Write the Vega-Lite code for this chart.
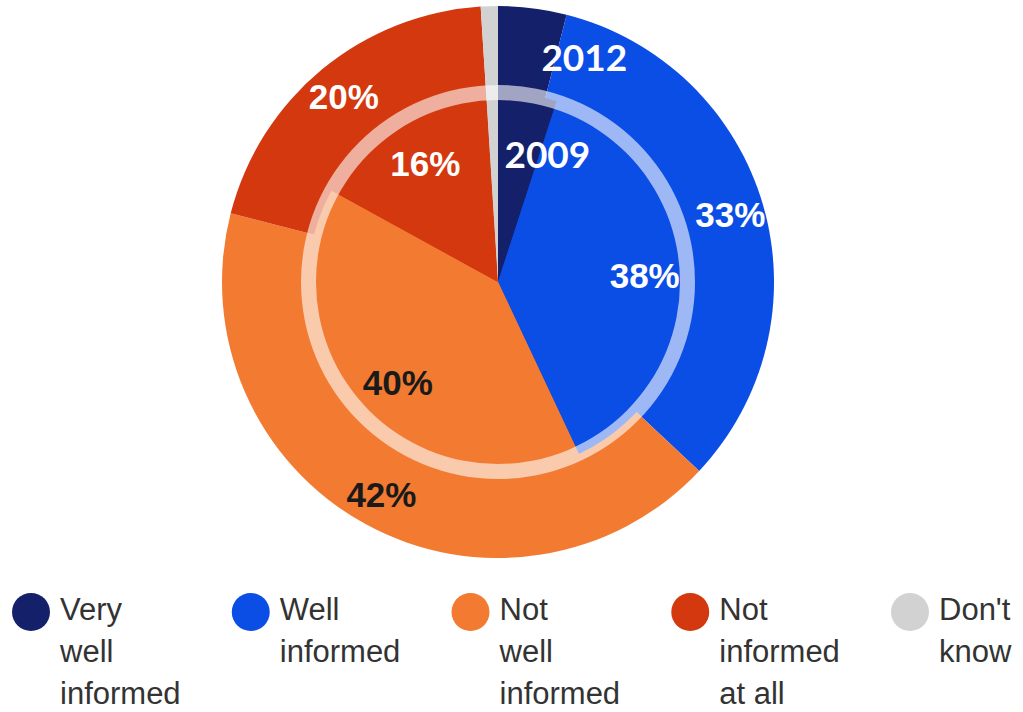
{
  "$schema": "https://vega.github.io/schema/vega-lite/v6.json",
  "background": "white",
  "padding": 0,
  "spacing": 0,
  "config": {"view": {"stroke": null}},
  "datasets": {
    "survey": [
      {"year": "2012", "category": "Very well informed", "ord": 1, "share": 0.04, "legend_label": "Very\nwell\ninformed"},
      {"year": "2012", "category": "Well informed", "ord": 2, "share": 0.33, "legend_label": "Well\ninformed"},
      {"year": "2012", "category": "Not well informed", "ord": 3, "share": 0.42, "legend_label": "Not\nwell\ninformed"},
      {"year": "2012", "category": "Not informed at all", "ord": 4, "share": 0.20, "legend_label": "Not\ninformed\nat all"},
      {"year": "2012", "category": "Don't know", "ord": 5, "share": 0.01, "legend_label": "Don't\nknow"},
      {"year": "2009", "category": "Very well informed", "ord": 1, "share": 0.05, "legend_label": "Very\nwell\ninformed"},
      {"year": "2009", "category": "Well informed", "ord": 2, "share": 0.38, "legend_label": "Well\ninformed"},
      {"year": "2009", "category": "Not well informed", "ord": 3, "share": 0.40, "legend_label": "Not\nwell\ninformed"},
      {"year": "2009", "category": "Not informed at all", "ord": 4, "share": 0.16, "legend_label": "Not\ninformed\nat all"},
      {"year": "2009", "category": "Don't know", "ord": 5, "share": 0.01, "legend_label": "Don't\nknow"}
    ],
    "ring": [{"v": 1}]
  },
  "vconcat": [
    {
      "width": 996,
      "height": 564,
      "layer": [
        {
          "data": {"name": "survey"},
          "transform": [{"filter": "datum.year === '2012'"}],
          "mark": {"type": "arc", "radius": 276},
          "encoding": {
            "theta": {"field": "share", "type": "quantitative", "stack": true},
            "order": {"field": "ord", "type": "quantitative"},
            "color": {
              "field": "category", "type": "nominal", "legend": null,
              "scale": {
                "domain": ["Very well informed", "Well informed", "Not well informed", "Not informed at all", "Don't know"],
                "range": ["#15206a", "#0b4ee6", "#f27a31", "#d4380e", "#d2d2d2"]
              }
            }
          }
        },
        {
          "data": {"name": "survey"},
          "transform": [{"filter": "datum.year === '2009'"}],
          "mark": {"type": "arc", "radius": 190},
          "encoding": {
            "theta": {"field": "share", "type": "quantitative", "stack": true},
            "order": {"field": "ord", "type": "quantitative"},
            "color": {"field": "category", "type": "nominal", "legend": null}
          }
        },
        {
          "data": {"name": "ring"},
          "mark": {"type": "arc", "radius": 197, "radius2": 182, "color": "white", "opacity": 0.6},
          "encoding": {
            "theta": {"field": "v", "type": "quantitative", "stack": true}
          }
        },
        {
          "data": {"name": "survey"},
          "transform": [{"filter": "datum.year === '2012'"}],
          "mark": {"type": "text", "radius": 242, "dy": 2, "font": "Liberation Sans, Arial", "fontWeight": "bold", "fontSize": 35, "baseline": "middle", "align": "center"},
          "encoding": {
            "theta": {"field": "share", "type": "quantitative", "stack": true},
            "order": {"field": "ord", "type": "quantitative"},
            "text": {"condition": {"test": "datum.share >= 0.1", "field": "share", "type": "quantitative", "format": ".0%"}, "value": ""},
            "color": {"condition": {"test": "datum.category === 'Not well informed'", "value": "#1a1a1a"}, "value": "white"}
          }
        },
        {
          "data": {"name": "survey"},
          "transform": [{"filter": "datum.year === '2009'"}],
          "mark": {"type": "text", "radius": 143, "dy": 4, "dx": 4, "font": "Liberation Sans, Arial", "fontWeight": "bold", "fontSize": 35, "baseline": "middle", "align": "center"},
          "encoding": {
            "theta": {"field": "share", "type": "quantitative", "stack": true},
            "order": {"field": "ord", "type": "quantitative"},
            "text": {"condition": {"test": "datum.share >= 0.1", "field": "share", "type": "quantitative", "format": ".0%"}, "value": ""},
            "color": {"condition": {"test": "datum.category === 'Not well informed'", "value": "#1a1a1a"}, "value": "white"}
          }
        },
        {
          "data": {"name": "survey"},
          "transform": [{"filter": "datum.year === '2012'"}],
          "mark": {"type": "text", "radius": 242, "dx": 56, "dy": 18, "font": "Lato, Open Sans", "fontWeight": "bold", "fontSize": 37, "baseline": "middle", "align": "center", "color": "white"},
          "encoding": {
            "theta": {"field": "share", "type": "quantitative", "stack": true},
            "order": {"field": "ord", "type": "quantitative"},
            "text": {"condition": {"test": "datum.category === 'Very well informed'", "field": "year"}, "value": ""}
          }
        },
        {
          "data": {"name": "survey"},
          "transform": [{"filter": "datum.year === '2009'"}],
          "mark": {"type": "text", "radius": 143, "dx": 27, "dy": 16, "font": "Lato, Open Sans", "fontWeight": "bold", "fontSize": 37, "baseline": "middle", "align": "center", "color": "white"},
          "encoding": {
            "theta": {"field": "share", "type": "quantitative", "stack": true},
            "order": {"field": "ord", "type": "quantitative"},
            "text": {"condition": {"test": "datum.category === 'Very well informed'", "field": "year"}, "value": ""}
          }
        }
      ]
    },
    {
      "width": 1023,
      "height": 96,
      "data": {"name": "survey"},
      "transform": [{"filter": "datum.year === '2012'"}],
      "layer": [
        {
          "mark": {"type": "point", "filled": true, "shape": "circle", "size": 1444, "opacity": 1},
          "encoding": {
            "x": {"field": "category", "type": "nominal", "sort": {"field": "ord"}, "axis": null,
                  "scale": {"type": "point", "range": [31, 910], "padding": 0}},
            "color": {"field": "category", "type": "nominal", "legend": null}
          }
        },
        {
          "mark": {"type": "text", "align": "left", "baseline": "alphabetic", "dx": 29, "dy": 8, "lineBreak": "\n", "lineHeight": 42, "fontSize": 31, "font": "Liberation Sans, Arial", "color": "#333333"},
          "encoding": {
            "x": {"field": "category", "type": "nominal", "sort": {"field": "ord"}, "axis": null},
            "text": {"field": "legend_label"}
          }
        }
      ]
    }
  ]
}
